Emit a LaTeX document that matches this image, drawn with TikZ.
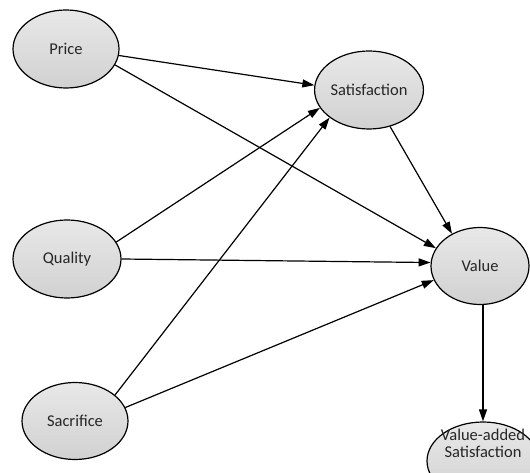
\documentclass[tikz,border=0pt]{standalone}
\usepackage{fontspec}
\setmainfont{Carlito}
\usetikzlibrary{shapes.geometric,arrows.meta}
\begin{document}
\begin{tikzpicture}[x=1pt,y=-1pt,
  blob/.style={ellipse,draw=black,line width=1.2pt,inner sep=0pt,
    top color=black!9,bottom color=black!18,text=black!85,
    font=\fontsize{16.5}{18}\selectfont,align=center},
  link/.style={line width=1.2pt,-{Triangle[length=12pt,width=8pt]}}]
\useasboundingbox (0,0) rectangle (530,473);
\node[blob,minimum width=106pt,minimum height=78pt] (price) at (66,49) {Price};
\node[blob,minimum width=108pt,minimum height=78pt] (quality) at (67,259) {Quality};
\node[blob,minimum width=106pt,minimum height=77pt] (sacrifice) at (75,421) {Sacrifice};
\node[blob,minimum width=108pt,minimum height=78pt] (sat) at (369,90) {Satisfaction};
\node[blob,minimum width=98pt,minimum height=77pt] (value) at (480,266) {Value};
\node[blob,minimum width=112pt,minimum height=78pt] (va) at (483,461)
  {\makebox[0pt]{\raisebox{11.5pt}[0pt][0pt]{\begin{tabular}{@{}c@{}}Value-added\\[-1pt]Satisfaction\end{tabular}}}};
\draw[link] (price.353) -- (sat.175);
\draw[link] (price.342) -- (value.158);
\draw[link] (quality.19) -- (sat.200);
\draw[link] (quality.0) -- (value.176);
\draw[link] (sacrifice.33) -- (sat.215);
\draw[link] (sacrifice.15) -- (value.197);
\draw[link] (sat.300) -- (value.131);
\draw[link] (value.south -| va.north) -- (va.north);
\end{tikzpicture}
\end{document}
